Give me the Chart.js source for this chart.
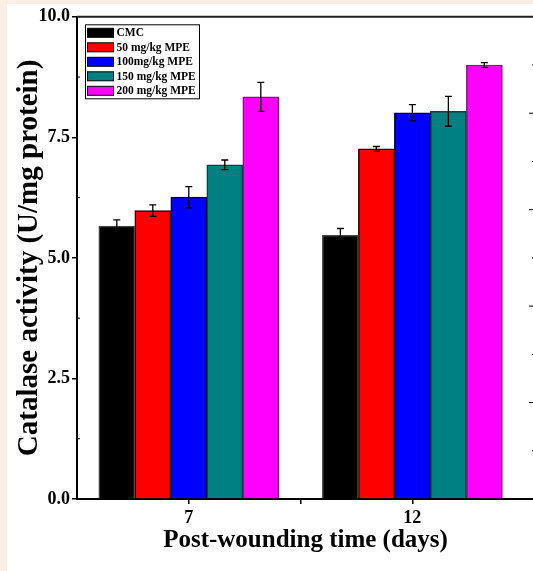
<!DOCTYPE html>
<html>
<head>
<meta charset="utf-8">
<script src="https://cdn.jsdelivr.net/npm/chart.js@4.4.0/dist/chart.umd.min.js"></script>
<style>
  html, body { margin: 0; padding: 0; background: #fbeee4; overflow: hidden; width: 533px; height: 571px; }
  #wrap { position: absolute; left: 7px; top: 4px; width: 533px; height: 567px; background: #fff; }
</style>
</head>
<body>
<div id="wrap"><canvas id="chart" width="533" height="567"></canvas></div>
<script>
// values
const days = [7, 12];
const groups = ['CMC', '50 mg/kg MPE', '100mg/kg MPE', '150 mg/kg MPE', '200 mg/kg MPE'];
const cmc = [5.66, 5.47];
const mpe50 = [5.98, 7.26];
const mpe100 = [6.26, 8.01];
const mpe150 = [6.93, 8.04];
const mpe200 = [8.34, 9.00];
const errCmc = [0.13, 0.14];
const err50 = [0.12, 0.05];
const err100 = [0.22, 0.17];
const err150 = [0.10, 0.31];
const err200 = [0.30, 0.05];
const yTicks = [0, 2.5, 5, 7.5, 10];
const xTicks = [7, 9.5, 12];
const xTickLabels = ['7', '', '12'];

const fills = ['#000000', '#ff0000', '#0000ff', '#008080', '#ff00ff'];
const edges = ['#444444', '#220000', '#000033', '#0b4040', '#7a1a7a'];
const values = [cmc, mpe50, mpe100, mpe150, mpe200];
const errors = [errCmc, err50, err100, err150, err200];

const serif = 'Liberation Serif, Times New Roman, serif';

// error bars on top of each bar
const errorBars = {
  id: 'errorBars',
  afterDatasetsDraw(chart) {
    const ctx = chart.ctx;
    const y = chart.scales.y;
    ctx.save();
    ctx.strokeStyle = '#000';
    ctx.lineWidth = 1.3;
    chart.data.datasets.forEach((ds, i) => {
      chart.getDatasetMeta(i).data.forEach((bar, j) => {
        const v = ds.data[j].y;
        const e = ds.errors[j];
        const top = y.getPixelForValue(v + e);
        const bot = y.getPixelForValue(v - e);
        ctx.beginPath();
        ctx.moveTo(bar.x, top); ctx.lineTo(bar.x, bot);
        ctx.moveTo(bar.x - 3.5, top); ctx.lineTo(bar.x + 3.5, top);
        ctx.moveTo(bar.x - 3.5, bot); ctx.lineTo(bar.x + 3.5, bot);
        ctx.stroke();
      });
    });
    ctx.restore();
  }
};

// frame: top line, minor inner ticks, right-side ticks
const frame = {
  id: 'frame',
  afterDraw(chart) {
    const {ctx, chartArea: a} = chart;
    const y = chart.scales.y;
    ctx.save();
    ctx.strokeStyle = '#222';
    ctx.lineWidth = 2;
    ctx.beginPath();
    ctx.moveTo(a.left, a.top); ctx.lineTo(chart.width, a.top);
    ctx.moveTo(a.right, a.top); ctx.lineTo(a.right, a.bottom);
    ctx.stroke();
    ctx.lineWidth = 1;
    ctx.strokeStyle = '#000';
    ctx.beginPath();
    for (let v = 1.25; v < 10; v += 2.5) {
      const py = y.getPixelForValue(v);
      ctx.moveTo(a.left, py); ctx.lineTo(a.left + 3, py);
    }
    for (let v = 1; v < 10; v++) {
      const py = y.getPixelForValue(v);
      ctx.moveTo(a.right - (v % 2 === 0 ? 5 : 2), py); ctx.lineTo(a.right, py);
    }
    ctx.stroke();
    ctx.restore();
  }
};

// legend box inside the plot
const boxLegend = {
  id: 'boxLegend',
  afterDraw(chart) {
    const {ctx, chartArea: a} = chart;
    const x0 = a.left + 8.5, y0 = a.top + 8;
    ctx.save();
    ctx.fillStyle = '#fff';
    ctx.fillRect(x0, y0, 114, 74);
    ctx.strokeStyle = '#000';
    ctx.lineWidth = 1;
    ctx.strokeRect(x0, y0, 114, 74);
    ctx.font = 'bold 11.5px ' + serif;
    ctx.textBaseline = 'middle';
    chart.data.datasets.forEach((ds, i) => {
      const cy = y0 + 8 + i * 14.5;
      ctx.fillStyle = ds.backgroundColor;
      ctx.fillRect(x0 + 2, cy - 4.5, 26, 9);
      ctx.strokeRect(x0 + 2, cy - 4.5, 26, 9);
      ctx.fillStyle = '#000';
      ctx.fillText(ds.label, x0 + 31, cy + 0.5);
    });
    ctx.restore();
  }
};

new Chart(document.getElementById('chart'), {
  type: 'bar',
  data: {
    datasets: groups.map((g, i) => ({
      label: g,
      data: days.map((d, j) => ({x: d, y: values[i][j]})),
      errors: errors[i],
      backgroundColor: fills[i],
      borderColor: edges[i],
      borderWidth: 1.5,
      barThickness: 36
    }))
  },
  options: {
    responsive: false,
    animation: false,
    devicePixelRatio: 1,
    layout: { padding: { top: 11, right: 6, left: 0, bottom: 0 } },
    plugins: {
      legend: { display: false },
      tooltip: { enabled: false }
    },
    scales: {
      x: {
        type: 'linear',
        min: 4.5,
        max: 14.72,
        offset: false,
        afterBuildTicks: s => { s.ticks = xTicks.map(v => ({value: v})); },
        afterFit: s => { s.height = 72; },
        ticks: {
          color: '#000',
          font: { family: serif, size: 18, weight: 'bold' },
          padding: 4,
          maxRotation: 0,
          callback: (v, i) => xTickLabels[i]
        },
        grid: { offset: false, drawOnChartArea: false, drawTicks: true, tickLength: 5, color: '#000', lineWidth: 1.5 },
        border: { display: true, color: '#000', width: 2 },
        title: {
          display: true,
          text: 'Post-wounding time (days)',
          color: '#000',
          font: { family: serif, size: 25, weight: 'bold' },
          padding: { top: 0, bottom: 15 }
        }
      },
      y: {
        min: 0,
        max: 10,
        afterBuildTicks: s => { s.ticks = yTicks.map(v => ({value: v})); },
        afterFit: s => { s.width = 70; },
        ticks: {
          color: '#000',
          font: { family: serif, size: 18, weight: 'bold' },
          padding: 2,
          callback: v => v.toFixed(1)
        },
        grid: { drawOnChartArea: false, drawTicks: true, tickLength: 5, color: '#000', lineWidth: 1.5 },
        border: { display: true, color: '#000', width: 2 },
        title: {
          display: true,
          text: 'Catalase activity (U/mg protein)',
          color: '#000',
          font: { family: serif, size: 29, weight: 'bold' },
          padding: { top: 5, bottom: 0 }
        }
      }
    }
  },
  plugins: [errorBars, frame, boxLegend]
});
</script>
</body>
</html>
